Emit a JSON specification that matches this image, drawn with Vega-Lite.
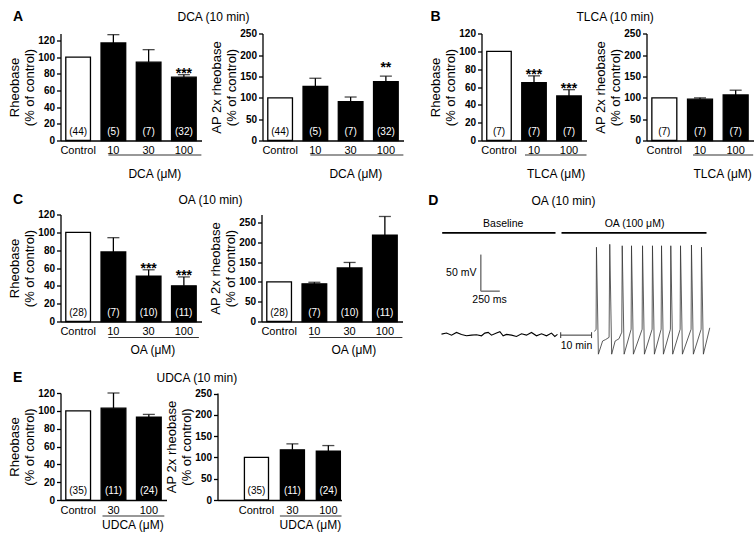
{
  "$schema": "https://vega.github.io/schema/vega-lite/v6.json",
  "padding": {"left": 7.5, "top": 9.5, "right": 0, "bottom": 0},
  "config": {
    "font": "Liberation Sans",
    "view": {"stroke": null},
    "axis": {"grid": false, "domainColor": "black", "domainWidth": 1.3, "tickColor": "black", "tickWidth": 1.3, "labelColor": "black", "titleColor": "black", "labelFont": "Liberation Sans", "titleFont": "Liberation Sans"},
    "axisQuantitative": {"labelOverlap": false},
    "axisY": {"tickSize": 4, "labelFontWeight": "bold", "labelFontSize": 10, "labelPadding": 2, "labelOverlap": false, "titleFontWeight": "normal", "titleFontSize": 13, "titleLineHeight": 15.5, "titlePadding": 1},
    "axisX": {"ticks": false, "labelAngle": 0, "labelFontSize": 11, "labelPadding": 4, "title": null},
    "title": {"anchor": "start", "frame": "group", "baseline": "alphabetic", "offset": 8, "color": "black", "font": "Liberation Sans", "fontSize": 12, "fontWeight": "normal"},
    "text": {"font": "Liberation Sans", "color": "black"}
  },
  "datasets": {
    "dcaRheo": [
      {"cat": "Control", "grp": "Control", "mean": 100, "n": "(44)"},
      {"cat": "10", "grp": "Drug", "mean": 117, "upper": 127, "n": "(5)"},
      {"cat": "30", "grp": "Drug", "mean": 94, "upper": 109, "n": "(7)"},
      {"cat": "100", "grp": "Drug", "mean": 76, "upper": 79, "n": "(32)", "sig": "***"}
    ],
    "dcaAP": [
      {"cat": "Control", "grp": "Control", "mean": 100, "n": "(44)"},
      {"cat": "10", "grp": "Drug", "mean": 127, "upper": 146, "n": "(5)"},
      {"cat": "30", "grp": "Drug", "mean": 91, "upper": 102, "n": "(7)"},
      {"cat": "100", "grp": "Drug", "mean": 138, "upper": 151, "n": "(32)", "sig": "**"}
    ],
    "tlcaRheo": [
      {"cat": "Control", "grp": "Control", "mean": 100, "n": "(7)"},
      {"cat": "10", "grp": "Drug", "mean": 65, "upper": 72.5, "n": "(7)", "sig": "***"},
      {"cat": "100", "grp": "Drug", "mean": 50, "upper": 57, "n": "(7)", "sig": "***"}
    ],
    "tlcaAP": [
      {"cat": "Control", "grp": "Control", "mean": 100, "n": "(7)"},
      {"cat": "10", "grp": "Drug", "mean": 97, "upper": 100, "n": "(7)"},
      {"cat": "100", "grp": "Drug", "mean": 107, "upper": 118, "n": "(7)"}
    ],
    "oaRheo": [
      {"cat": "Control", "grp": "Control", "mean": 100, "n": "(28)"},
      {"cat": "10", "grp": "Drug", "mean": 78, "upper": 94, "n": "(7)"},
      {"cat": "30", "grp": "Drug", "mean": 51, "upper": 58, "n": "(10)", "sig": "***"},
      {"cat": "100", "grp": "Drug", "mean": 40, "upper": 50, "n": "(11)", "sig": "***"}
    ],
    "oaAP": [
      {"cat": "Control", "grp": "Control", "mean": 100, "n": "(28)"},
      {"cat": "10", "grp": "Drug", "mean": 95, "upper": 99, "n": "(7)"},
      {"cat": "30", "grp": "Drug", "mean": 135, "upper": 149, "n": "(10)"},
      {"cat": "100", "grp": "Drug", "mean": 218, "upper": 265, "n": "(11)"}
    ],
    "udcaRheo": [
      {"cat": "Control", "grp": "Control", "mean": 100, "n": "(35)"},
      {"cat": "30", "grp": "Drug", "mean": 103, "upper": 120, "n": "(11)"},
      {"cat": "100", "grp": "Drug", "mean": 93, "upper": 96, "n": "(24)"}
    ],
    "udcaAP": [
      {"cat": "Control", "grp": "Control", "mean": 100, "n": "(35)"},
      {"cat": "30", "grp": "Drug", "mean": 118, "upper": 132, "n": "(11)"},
      {"cat": "100", "grp": "Drug", "mean": 115, "upper": 128, "n": "(24)"}
    ],
    "dBase": [
      {"t": 0, "v": -58.6}, {"t": 66, "v": -57.2}, {"t": 132, "v": -60.0}, {"t": 197, "v": -56.3}, {"t": 263, "v": -59.0},
      {"t": 329, "v": -60.9}, {"t": 395, "v": -60.0}, {"t": 461, "v": -59.5}, {"t": 526, "v": -60.9}, {"t": 570, "v": -57.2},
      {"t": 614, "v": -56.3}, {"t": 658, "v": -60.0}, {"t": 724, "v": -57.2}, {"t": 768, "v": -55.4}, {"t": 811, "v": -60.9},
      {"t": 855, "v": -59.0}, {"t": 921, "v": -60.0}, {"t": 987, "v": -61.8}, {"t": 1053, "v": -58.1}, {"t": 1118, "v": -60.0},
      {"t": 1184, "v": -56.3}, {"t": 1250, "v": -60.9}, {"t": 1316, "v": -58.1}, {"t": 1382, "v": -60.9}, {"t": 1447, "v": -57.2},
      {"t": 1491, "v": -61.8}, {"t": 1526, "v": -59.0}
    ],
    "dSpike": [
      {"t": 2013, "v": -55}, {"t": 2034, "v": -52}, {"t": 2039, "v": 60}, {"t": 2064, "v": -86}, {"t": 2120, "v": -68},
      {"t": 2160, "v": -66}, {"t": 2205, "v": -63}, {"t": 2214, "v": 64}, {"t": 2239, "v": -86}, {"t": 2285, "v": -68},
      {"t": 2335, "v": -65}, {"t": 2372, "v": -56}, {"t": 2378, "v": 62}, {"t": 2403, "v": -86}, {"t": 2495, "v": -52},
      {"t": 2500, "v": 62}, {"t": 2525, "v": -86}, {"t": 2640, "v": -52}, {"t": 2645, "v": 62}, {"t": 2670, "v": -86},
      {"t": 2771, "v": -52}, {"t": 2776, "v": 62}, {"t": 2801, "v": -86}, {"t": 2890, "v": -52}, {"t": 2895, "v": 62},
      {"t": 2920, "v": -86}, {"t": 3012, "v": -52}, {"t": 3017, "v": 62}, {"t": 3042, "v": -86}, {"t": 3140, "v": -52},
      {"t": 3145, "v": 62}, {"t": 3170, "v": -86}, {"t": 3284, "v": -52}, {"t": 3289, "v": 63}, {"t": 3314, "v": -86},
      {"t": 3416, "v": -52}, {"t": 3421, "v": 60}, {"t": 3446, "v": -86}, {"t": 3530, "v": -50}
    ],
    "dBars": [
      {"t1": 9, "t2": 1500, "v1": 79.6, "v2": 79.6},
      {"t1": 1579, "t2": 3487, "v1": 79.6, "v2": 79.6}
    ],
    "dScale": [
      {"t1": 517, "t2": 517, "v1": 0, "v2": 50},
      {"t1": 517, "t2": 767, "v1": 0, "v2": 0}
    ],
    "dBracket": [
      {"t1": 1568, "t2": 1974, "v1": -60, "v2": -60},
      {"t1": 1568, "t2": 1568, "v1": -64, "v2": -56},
      {"t1": 1974, "t2": 1974, "v1": -64, "v2": -56}
    ],
    "dTextC": [
      {"t": 812, "v": 91.9, "label": "Baseline"},
      {"t": 2540, "v": 91.9, "label": "OA (100 μM)"},
      {"t": 632, "v": -12, "label": "250 ms"},
      {"t": 1776, "v": -74.5, "label": "10 min"}
    ],
    "dTextR": [
      {"t": 460, "v": 24.4, "label": "50 mV"}
    ],
    "dHead": [
      {"t": 1605, "v": 123.7, "label": "OA (10 min)"}
    ],
    "dLetter": [
      {"t": -175, "v": 117.1, "label": "D"}
    ]
  },
  "spacing": 12,
  "vconcat": [
    {
      "spacing": 24,
      "hconcat": [
        {
          "bounds": "flush",
          "spacing": 61,
          "hconcat": [
            {
              "width": 141, "height": 107,
              "title": {"text": "A", "dx": -47.5, "offset": 9.5, "fontSize": 14, "fontWeight": "bold"},
              "data": {"name": "dcaRheo"},
              "encoding": {"x": {"field": "cat", "type": "nominal", "sort": null, "scale": {"domain": ["Control", "10", "30", "100"], "paddingInner": 0.3, "paddingOuter": 0.15}, "axis": {"title": null}}},
              "layer": [
                {"mark": {"type": "bar", "stroke": "black", "strokeWidth": 1.3},
                 "encoding": {"y": {"field": "mean", "type": "quantitative", "scale": {"domain": [0, 128.4], "nice": false}, "axis": {"values": [0, 20, 40, 60, 80, 100, 120], "labelOverlap": false, "title": ["Rheobase", "(% of control)"]}},
                   "fill": {"condition": {"test": "datum.grp === 'Control'", "value": "white"}, "value": "black"}}},
                {"transform": [{"filter": "isValid(datum.upper)"}], "mark": {"type": "rule", "color": "black", "strokeWidth": 1.3}, "encoding": {"y": {"field": "mean", "type": "quantitative", "axis": {"values": [0, 20, 40, 60, 80, 100, 120], "labelOverlap": false, "title": ["Rheobase", "(% of control)"]}}, "y2": {"field": "upper"}}},
                {"transform": [{"filter": "isValid(datum.upper)"}], "mark": {"type": "tick", "color": "black", "thickness": 1.3, "size": 12}, "encoding": {"y": {"field": "upper", "type": "quantitative", "axis": {"values": [0, 20, 40, 60, 80, 100, 120], "labelOverlap": false, "title": ["Rheobase", "(% of control)"]}}}},
                {"transform": [{"filter": "isValid(datum.sig)"}], "mark": {"type": "text", "fontSize": 14, "fontWeight": "bold", "baseline": "alphabetic", "dy": 3}, "encoding": {"y": {"field": "upper", "type": "quantitative", "axis": {"values": [0, 20, 40, 60, 80, 100, 120], "labelOverlap": false, "title": ["Rheobase", "(% of control)"]}}, "text": {"field": "sig"}}},
                {"mark": {"type": "text", "fontSize": 10, "baseline": "alphabetic", "dy": -6}, "encoding": {"y": {"datum": 0, "type": "quantitative", "axis": {"values": [0, 20, 40, 60, 80, 100, 120], "labelOverlap": false, "title": ["Rheobase", "(% of control)"]}}, "text": {"field": "n"}, "color": {"condition": {"test": "datum.grp === 'Control'", "value": "black"}, "value": "white"}}},
                {"data": {"values": [{}]}, "mark": {"type": "rule", "color": "#333", "strokeWidth": 1.2, "xOffset": -5, "x2Offset": 17.5, "yOffset": 14.5}, "encoding": {"x": {"datum": "10"}, "x2": {"datum": "100"}, "y": {"datum": 0, "type": "quantitative", "axis": {"values": [0, 20, 40, 60, 80, 100, 120], "labelOverlap": false, "title": ["Rheobase", "(% of control)"]}}}},
                {"data": {"values": [{}]}, "mark": {"type": "text", "fontSize": 12, "baseline": "alphabetic", "xOffset": -29, "yOffset": 37.5}, "encoding": {"x": {"datum": "100"}, "y": {"datum": 0, "type": "quantitative", "axis": {"values": [0, 20, 40, 60, 80, 100, 120], "labelOverlap": false, "title": ["Rheobase", "(% of control)"]}}, "text": {"value": "DCA (μM)"}}}
              ]
            },
            {
              "width": 141, "height": 107,
              "title": {"text": "DCA (10 min)", "dx": -85, "offset": 5},
              "data": {"name": "dcaAP"},
              "encoding": {"x": {"field": "cat", "type": "nominal", "sort": null, "scale": {"domain": ["Control", "10", "30", "100"], "paddingInner": 0.3, "paddingOuter": 0.15}, "axis": {"title": null}}},
              "layer": [
                {"mark": {"type": "bar", "stroke": "black", "strokeWidth": 1.3},
                 "encoding": {"y": {"field": "mean", "type": "quantitative", "scale": {"domain": [0, 251], "nice": false}, "axis": {"values": [0, 50, 100, 150, 200, 250], "labelOverlap": false, "title": ["AP 2x rheobase", "(% of control)"]}},
                   "fill": {"condition": {"test": "datum.grp === 'Control'", "value": "white"}, "value": "black"}}},
                {"transform": [{"filter": "isValid(datum.upper)"}], "mark": {"type": "rule", "color": "black", "strokeWidth": 1.3}, "encoding": {"y": {"field": "mean", "type": "quantitative", "axis": {"values": [0, 50, 100, 150, 200, 250], "labelOverlap": false, "title": ["AP 2x rheobase", "(% of control)"]}}, "y2": {"field": "upper"}}},
                {"transform": [{"filter": "isValid(datum.upper)"}], "mark": {"type": "tick", "color": "black", "thickness": 1.3, "size": 12}, "encoding": {"y": {"field": "upper", "type": "quantitative", "axis": {"values": [0, 50, 100, 150, 200, 250], "labelOverlap": false, "title": ["AP 2x rheobase", "(% of control)"]}}}},
                {"transform": [{"filter": "isValid(datum.sig)"}], "mark": {"type": "text", "fontSize": 14, "fontWeight": "bold", "baseline": "alphabetic", "dy": -4}, "encoding": {"y": {"field": "upper", "type": "quantitative", "axis": {"values": [0, 50, 100, 150, 200, 250], "labelOverlap": false, "title": ["AP 2x rheobase", "(% of control)"]}}, "text": {"field": "sig"}}},
                {"mark": {"type": "text", "fontSize": 10, "baseline": "alphabetic", "dy": -6}, "encoding": {"y": {"datum": 0, "type": "quantitative", "axis": {"values": [0, 50, 100, 150, 200, 250], "labelOverlap": false, "title": ["AP 2x rheobase", "(% of control)"]}}, "text": {"field": "n"}, "color": {"condition": {"test": "datum.grp === 'Control'", "value": "black"}, "value": "white"}}},
                {"data": {"values": [{}]}, "mark": {"type": "rule", "color": "#333", "strokeWidth": 1.2, "xOffset": -5, "x2Offset": 17.5, "yOffset": 14.5}, "encoding": {"x": {"datum": "10"}, "x2": {"datum": "100"}, "y": {"datum": 0, "type": "quantitative", "axis": {"values": [0, 50, 100, 150, 200, 250], "labelOverlap": false, "title": ["AP 2x rheobase", "(% of control)"]}}}},
                {"data": {"values": [{}]}, "mark": {"type": "text", "fontSize": 12, "baseline": "alphabetic", "xOffset": -30, "yOffset": 37.5}, "encoding": {"x": {"datum": "100"}, "y": {"datum": 0, "type": "quantitative", "axis": {"values": [0, 50, 100, 150, 200, 250], "labelOverlap": false, "title": ["AP 2x rheobase", "(% of control)"]}}, "text": {"value": "DCA (μM)"}}}
              ]
            }
          ]
        },
        {
          "bounds": "flush",
          "spacing": 60,
          "hconcat": [
            {
              "width": 105, "height": 107,
              "title": {"text": "B", "dx": -51, "offset": 4.5, "fontSize": 14, "fontWeight": "bold"},
              "data": {"name": "tlcaRheo"},
              "encoding": {"x": {"field": "cat", "type": "nominal", "sort": null, "scale": {"domain": ["Control", "10", "100"], "paddingInner": 0.3, "paddingOuter": 0.15}, "axis": {"title": null}}},
              "layer": [
                {"mark": {"type": "bar", "stroke": "black", "strokeWidth": 1.3},
                 "encoding": {"y": {"field": "mean", "type": "quantitative", "scale": {"domain": [0, 120], "nice": false}, "axis": {"values": [0, 20, 40, 60, 80, 100, 120], "labelOverlap": false, "title": ["Rheobase", "(% of control)"]}},
                   "fill": {"condition": {"test": "datum.grp === 'Control'", "value": "white"}, "value": "black"}}},
                {"transform": [{"filter": "isValid(datum.upper)"}], "mark": {"type": "rule", "color": "black", "strokeWidth": 1.3}, "encoding": {"y": {"field": "mean", "type": "quantitative", "axis": {"values": [0, 20, 40, 60, 80, 100, 120], "labelOverlap": false, "title": ["Rheobase", "(% of control)"]}}, "y2": {"field": "upper"}}},
                {"transform": [{"filter": "isValid(datum.upper)"}], "mark": {"type": "tick", "color": "black", "thickness": 1.3, "size": 12}, "encoding": {"y": {"field": "upper", "type": "quantitative", "axis": {"values": [0, 20, 40, 60, 80, 100, 120], "labelOverlap": false, "title": ["Rheobase", "(% of control)"]}}}},
                {"transform": [{"filter": "isValid(datum.sig)"}], "mark": {"type": "text", "fontSize": 14, "fontWeight": "bold", "baseline": "alphabetic", "dy": 3}, "encoding": {"y": {"field": "upper", "type": "quantitative", "axis": {"values": [0, 20, 40, 60, 80, 100, 120], "labelOverlap": false, "title": ["Rheobase", "(% of control)"]}}, "text": {"field": "sig"}}},
                {"mark": {"type": "text", "fontSize": 10, "baseline": "alphabetic", "dy": -6}, "encoding": {"y": {"datum": 0, "type": "quantitative", "axis": {"values": [0, 20, 40, 60, 80, 100, 120], "labelOverlap": false, "title": ["Rheobase", "(% of control)"]}}, "text": {"field": "n"}, "color": {"condition": {"test": "datum.grp === 'Control'", "value": "black"}, "value": "white"}}},
                {"data": {"values": [{}]}, "mark": {"type": "rule", "color": "#333", "strokeWidth": 1.2, "xOffset": -9, "x2Offset": 17.5, "yOffset": 14.5}, "encoding": {"x": {"datum": "10"}, "x2": {"datum": "100"}, "y": {"datum": 0, "type": "quantitative", "axis": {"values": [0, 20, 40, 60, 80, 100, 120], "labelOverlap": false, "title": ["Rheobase", "(% of control)"]}}}},
                {"data": {"values": [{}]}, "mark": {"type": "text", "fontSize": 12, "baseline": "alphabetic", "xOffset": -13, "yOffset": 37.5}, "encoding": {"x": {"datum": "100"}, "y": {"datum": 0, "type": "quantitative", "axis": {"values": [0, 20, 40, 60, 80, 100, 120], "labelOverlap": false, "title": ["Rheobase", "(% of control)"]}}, "text": {"value": "TLCA (μM)"}}}
              ]
            },
            {
              "width": 107, "height": 107,
              "title": {"text": "TLCA (10 min)", "dx": -70, "offset": 5},
              "data": {"name": "tlcaAP"},
              "encoding": {"x": {"field": "cat", "type": "nominal", "sort": null, "scale": {"domain": ["Control", "10", "100"], "paddingInner": 0.3, "paddingOuter": 0.15}, "axis": {"title": null}}},
              "layer": [
                {"mark": {"type": "bar", "stroke": "black", "strokeWidth": 1.3},
                 "encoding": {"y": {"field": "mean", "type": "quantitative", "scale": {"domain": [0, 251], "nice": false}, "axis": {"values": [0, 50, 100, 150, 200, 250], "labelOverlap": false, "title": ["AP 2x rheobase", "(% of control)"]}},
                   "fill": {"condition": {"test": "datum.grp === 'Control'", "value": "white"}, "value": "black"}}},
                {"transform": [{"filter": "isValid(datum.upper)"}], "mark": {"type": "rule", "color": "black", "strokeWidth": 1.3}, "encoding": {"y": {"field": "mean", "type": "quantitative", "axis": {"values": [0, 50, 100, 150, 200, 250], "labelOverlap": false, "title": ["AP 2x rheobase", "(% of control)"]}}, "y2": {"field": "upper"}}},
                {"transform": [{"filter": "isValid(datum.upper)"}], "mark": {"type": "tick", "color": "black", "thickness": 1.3, "size": 12}, "encoding": {"y": {"field": "upper", "type": "quantitative", "axis": {"values": [0, 50, 100, 150, 200, 250], "labelOverlap": false, "title": ["AP 2x rheobase", "(% of control)"]}}}},
                {"mark": {"type": "text", "fontSize": 10, "baseline": "alphabetic", "dy": -6}, "encoding": {"y": {"datum": 0, "type": "quantitative", "axis": {"values": [0, 50, 100, 150, 200, 250], "labelOverlap": false, "title": ["AP 2x rheobase", "(% of control)"]}}, "text": {"field": "n"}, "color": {"condition": {"test": "datum.grp === 'Control'", "value": "black"}, "value": "white"}}},
                {"data": {"values": [{}]}, "mark": {"type": "rule", "color": "#333", "strokeWidth": 1.2, "xOffset": -7, "x2Offset": 17.5, "yOffset": 14.5}, "encoding": {"x": {"datum": "10"}, "x2": {"datum": "100"}, "y": {"datum": 0, "type": "quantitative", "axis": {"values": [0, 50, 100, 150, 200, 250], "labelOverlap": false, "title": ["AP 2x rheobase", "(% of control)"]}}}},
                {"data": {"values": [{}]}, "mark": {"type": "text", "fontSize": 12, "baseline": "alphabetic", "xOffset": -13, "yOffset": 37.5}, "encoding": {"x": {"datum": "100"}, "y": {"datum": 0, "type": "quantitative", "axis": {"values": [0, 50, 100, 150, 200, 250], "labelOverlap": false, "title": ["AP 2x rheobase", "(% of control)"]}}, "text": {"value": "TLCA (μM)"}}}
              ]
            }
          ]
        }
      ]
    },
    {
      "spacing": 14.5,
      "vconcat": [
        {
          "bounds": "flush",
          "spacing": 60,
          "hconcat": [
            {
              "width": 141, "height": 107,
              "title": {"text": "C", "dx": -47.5, "offset": 3, "fontSize": 14, "fontWeight": "bold"},
              "data": {"name": "oaRheo"},
              "encoding": {"x": {"field": "cat", "type": "nominal", "sort": null, "scale": {"domain": ["Control", "10", "30", "100"], "paddingInner": 0.3, "paddingOuter": 0.15}, "axis": {"title": null}}},
              "layer": [
                {"mark": {"type": "bar", "stroke": "black", "strokeWidth": 1.3},
                 "encoding": {"y": {"field": "mean", "type": "quantitative", "scale": {"domain": [0, 120], "nice": false}, "axis": {"values": [0, 20, 40, 60, 80, 100, 120], "labelOverlap": false, "title": ["Rheobase", "(% of control)"]}},
                   "fill": {"condition": {"test": "datum.grp === 'Control'", "value": "white"}, "value": "black"}}},
                {"transform": [{"filter": "isValid(datum.upper)"}], "mark": {"type": "rule", "color": "black", "strokeWidth": 1.3}, "encoding": {"y": {"field": "mean", "type": "quantitative", "axis": {"values": [0, 20, 40, 60, 80, 100, 120], "labelOverlap": false, "title": ["Rheobase", "(% of control)"]}}, "y2": {"field": "upper"}}},
                {"transform": [{"filter": "isValid(datum.upper)"}], "mark": {"type": "tick", "color": "black", "thickness": 1.3, "size": 12}, "encoding": {"y": {"field": "upper", "type": "quantitative", "axis": {"values": [0, 20, 40, 60, 80, 100, 120], "labelOverlap": false, "title": ["Rheobase", "(% of control)"]}}}},
                {"transform": [{"filter": "isValid(datum.sig)"}], "mark": {"type": "text", "fontSize": 14, "fontWeight": "bold", "baseline": "alphabetic", "dy": 3}, "encoding": {"y": {"field": "upper", "type": "quantitative", "axis": {"values": [0, 20, 40, 60, 80, 100, 120], "labelOverlap": false, "title": ["Rheobase", "(% of control)"]}}, "text": {"field": "sig"}}},
                {"mark": {"type": "text", "fontSize": 10, "baseline": "alphabetic", "dy": -6}, "encoding": {"y": {"datum": 0, "type": "quantitative", "axis": {"values": [0, 20, 40, 60, 80, 100, 120], "labelOverlap": false, "title": ["Rheobase", "(% of control)"]}}, "text": {"field": "n"}, "color": {"condition": {"test": "datum.grp === 'Control'", "value": "black"}, "value": "white"}}},
                {"data": {"values": [{}]}, "mark": {"type": "rule", "color": "#333", "strokeWidth": 1.2, "xOffset": -5, "x2Offset": 15, "yOffset": 16}, "encoding": {"x": {"datum": "10"}, "x2": {"datum": "100"}, "y": {"datum": 0, "type": "quantitative", "axis": {"values": [0, 20, 40, 60, 80, 100, 120], "labelOverlap": false, "title": ["Rheobase", "(% of control)"]}}}},
                {"data": {"values": [{}]}, "mark": {"type": "text", "fontSize": 12, "baseline": "alphabetic", "xOffset": -31, "yOffset": 32}, "encoding": {"x": {"datum": "100"}, "y": {"datum": 0, "type": "quantitative", "axis": {"values": [0, 20, 40, 60, 80, 100, 120], "labelOverlap": false, "title": ["Rheobase", "(% of control)"]}}, "text": {"value": "OA (μM)"}}}
              ]
            },
            {
              "width": 141, "height": 107,
              "title": {"text": "OA (10 min)", "dx": -83, "offset": 8},
              "data": {"name": "oaAP"},
              "encoding": {"x": {"field": "cat", "type": "nominal", "sort": null, "scale": {"domain": ["Control", "10", "30", "100"], "paddingInner": 0.3, "paddingOuter": 0.15}, "axis": {"title": null}}},
              "layer": [
                {"mark": {"type": "bar", "stroke": "black", "strokeWidth": 1.3},
                 "encoding": {"y": {"field": "mean", "type": "quantitative", "scale": {"domain": [0, 270], "nice": false}, "axis": {"values": [0, 50, 100, 150, 200, 250], "labelOverlap": false, "title": ["AP 2x rheobase", "(% of control)"]}},
                   "fill": {"condition": {"test": "datum.grp === 'Control'", "value": "white"}, "value": "black"}}},
                {"transform": [{"filter": "isValid(datum.upper)"}], "mark": {"type": "rule", "color": "black", "strokeWidth": 1.3}, "encoding": {"y": {"field": "mean", "type": "quantitative", "axis": {"values": [0, 50, 100, 150, 200, 250], "labelOverlap": false, "title": ["AP 2x rheobase", "(% of control)"]}}, "y2": {"field": "upper"}}},
                {"transform": [{"filter": "isValid(datum.upper)"}], "mark": {"type": "tick", "color": "black", "thickness": 1.3, "size": 12}, "encoding": {"y": {"field": "upper", "type": "quantitative", "axis": {"values": [0, 50, 100, 150, 200, 250], "labelOverlap": false, "title": ["AP 2x rheobase", "(% of control)"]}}}},
                {"mark": {"type": "text", "fontSize": 10, "baseline": "alphabetic", "dy": -6}, "encoding": {"y": {"datum": 0, "type": "quantitative", "axis": {"values": [0, 50, 100, 150, 200, 250], "labelOverlap": false, "title": ["AP 2x rheobase", "(% of control)"]}}, "text": {"field": "n"}, "color": {"condition": {"test": "datum.grp === 'Control'", "value": "black"}, "value": "white"}}},
                {"data": {"values": [{}]}, "mark": {"type": "rule", "color": "#333", "strokeWidth": 1.2, "xOffset": -5, "x2Offset": 17.5, "yOffset": 16}, "encoding": {"x": {"datum": "10"}, "x2": {"datum": "100"}, "y": {"datum": 0, "type": "quantitative", "axis": {"values": [0, 50, 100, 150, 200, 250], "labelOverlap": false, "title": ["AP 2x rheobase", "(% of control)"]}}}},
                {"data": {"values": [{}]}, "mark": {"type": "text", "fontSize": 12, "baseline": "alphabetic", "xOffset": -31, "yOffset": 32}, "encoding": {"x": {"datum": "100"}, "y": {"datum": 0, "type": "quantitative", "axis": {"values": [0, 50, 100, 150, 200, 250], "labelOverlap": false, "title": ["AP 2x rheobase", "(% of control)"]}}, "text": {"value": "OA (μM)"}}}
              ]
            },
            {
              "width": 250, "height": 141,
              "layer": [
                {"data": {"name": "dBase"}, "mark": {"type": "line", "color": "black", "strokeWidth": 1.1},
                 "encoding": {"x": {"field": "t", "type": "quantitative", "scale": {"domain": [276.3, 3565.8], "nice": false, "zero": false}, "axis": null},
                              "y": {"field": "v", "type": "quantitative", "scale": {"domain": [-87.8, 104.7], "nice": false, "zero": false}, "axis": null}}},
                {"data": {"name": "dSpike"}, "mark": {"type": "line", "color": "#333", "strokeWidth": 0.8},
                 "encoding": {"x": {"field": "t", "type": "quantitative", "scale": {"domain": [276.3, 3565.8], "nice": false, "zero": false}, "axis": null},
                              "y": {"field": "v", "type": "quantitative", "scale": {"domain": [-87.8, 104.7], "nice": false, "zero": false}, "axis": null}}},
                {"data": {"name": "dBars"}, "mark": {"type": "rule", "color": "black", "strokeWidth": 1.8},
                 "encoding": {"x": {"field": "t1", "type": "quantitative", "scale": {"domain": [276.3, 3565.8], "nice": false, "zero": false}, "axis": null}, "x2": {"field": "t2"},
                              "y": {"field": "v1", "type": "quantitative", "scale": {"domain": [-87.8, 104.7], "nice": false, "zero": false}, "axis": null}, "y2": {"field": "v2"}}},
                {"data": {"name": "dScale"}, "mark": {"type": "rule", "color": "#808080", "strokeWidth": 1.6},
                 "encoding": {"x": {"field": "t1", "type": "quantitative", "scale": {"domain": [276.3, 3565.8], "nice": false, "zero": false}, "axis": null}, "x2": {"field": "t2"},
                              "y": {"field": "v1", "type": "quantitative", "scale": {"domain": [-87.8, 104.7], "nice": false, "zero": false}, "axis": null}, "y2": {"field": "v2"}}},
                {"data": {"name": "dBracket"}, "mark": {"type": "rule", "color": "#444", "strokeWidth": 1.1},
                 "encoding": {"x": {"field": "t1", "type": "quantitative", "scale": {"domain": [276.3, 3565.8], "nice": false, "zero": false}, "axis": null}, "x2": {"field": "t2"},
                              "y": {"field": "v1", "type": "quantitative", "scale": {"domain": [-87.8, 104.7], "nice": false, "zero": false}, "axis": null}, "y2": {"field": "v2"}}},
                {"data": {"name": "dTextC"}, "mark": {"type": "text", "fontSize": 10.5, "align": "center", "baseline": "middle"},
                 "encoding": {"x": {"field": "t", "type": "quantitative", "scale": {"domain": [276.3, 3565.8], "nice": false, "zero": false}, "axis": null},
                              "y": {"field": "v", "type": "quantitative", "scale": {"domain": [-87.8, 104.7], "nice": false, "zero": false}, "axis": null}, "text": {"field": "label"}}},
                {"data": {"name": "dTextR"}, "mark": {"type": "text", "fontSize": 10.5, "align": "right", "baseline": "middle"},
                 "encoding": {"x": {"field": "t", "type": "quantitative", "scale": {"domain": [276.3, 3565.8], "nice": false, "zero": false}, "axis": null},
                              "y": {"field": "v", "type": "quantitative", "scale": {"domain": [-87.8, 104.7], "nice": false, "zero": false}, "axis": null}, "text": {"field": "label"}}},
                {"data": {"name": "dHead"}, "mark": {"type": "text", "fontSize": 12, "align": "center", "baseline": "middle"},
                 "encoding": {"x": {"field": "t", "type": "quantitative", "scale": {"domain": [276.3, 3565.8], "nice": false, "zero": false}, "axis": null},
                              "y": {"field": "v", "type": "quantitative", "scale": {"domain": [-87.8, 104.7], "nice": false, "zero": false}, "axis": null}, "text": {"field": "label"}}},
                {"data": {"name": "dLetter"}, "mark": {"type": "text", "fontSize": 14, "fontWeight": "bold", "align": "left", "baseline": "alphabetic"},
                 "encoding": {"x": {"field": "t", "type": "quantitative", "scale": {"domain": [276.3, 3565.8], "nice": false, "zero": false}, "axis": null},
                              "y": {"field": "v", "type": "quantitative", "scale": {"domain": [-87.8, 104.7], "nice": false, "zero": false}, "axis": null}, "text": {"field": "label"}}}
              ]
            }
          ]
        },
        {
          "bounds": "flush",
          "spacing": 51,
          "hconcat": [
            {
              "width": 106, "height": 107,
              "title": {"text": "E", "dx": -47.5, "offset": 3, "fontSize": 14, "fontWeight": "bold"},
              "data": {"name": "udcaRheo"},
              "encoding": {"x": {"field": "cat", "type": "nominal", "sort": null, "scale": {"domain": ["Control", "30", "100"], "paddingInner": 0.3, "paddingOuter": 0.15}, "axis": {"title": null}}},
              "layer": [
                {"mark": {"type": "bar", "stroke": "black", "strokeWidth": 1.3},
                 "encoding": {"y": {"field": "mean", "type": "quantitative", "scale": {"domain": [0, 120], "nice": false}, "axis": {"values": [0, 20, 40, 60, 80, 100, 120], "labelOverlap": false, "title": ["Rheobase", "(% of control)"]}},
                   "fill": {"condition": {"test": "datum.grp === 'Control'", "value": "white"}, "value": "black"}}},
                {"transform": [{"filter": "isValid(datum.upper)"}], "mark": {"type": "rule", "color": "black", "strokeWidth": 1.3}, "encoding": {"y": {"field": "mean", "type": "quantitative", "axis": {"values": [0, 20, 40, 60, 80, 100, 120], "labelOverlap": false, "title": ["Rheobase", "(% of control)"]}}, "y2": {"field": "upper"}}},
                {"transform": [{"filter": "isValid(datum.upper)"}], "mark": {"type": "tick", "color": "black", "thickness": 1.3, "size": 12}, "encoding": {"y": {"field": "upper", "type": "quantitative", "axis": {"values": [0, 20, 40, 60, 80, 100, 120], "labelOverlap": false, "title": ["Rheobase", "(% of control)"]}}}},
                {"mark": {"type": "text", "fontSize": 10, "baseline": "alphabetic", "dy": -6}, "encoding": {"y": {"datum": 0, "type": "quantitative", "axis": {"values": [0, 20, 40, 60, 80, 100, 120], "labelOverlap": false, "title": ["Rheobase", "(% of control)"]}}, "text": {"field": "n"}, "color": {"condition": {"test": "datum.grp === 'Control'", "value": "black"}, "value": "white"}}},
                {"data": {"values": [{}]}, "mark": {"type": "rule", "color": "#333", "strokeWidth": 1.2, "xOffset": -11, "x2Offset": 15.5, "yOffset": 16}, "encoding": {"x": {"datum": "30"}, "x2": {"datum": "100"}, "y": {"datum": 0, "type": "quantitative", "axis": {"values": [0, 20, 40, 60, 80, 100, 120], "labelOverlap": false, "title": ["Rheobase", "(% of control)"]}}}},
                {"data": {"values": [{}]}, "mark": {"type": "text", "fontSize": 12, "baseline": "alphabetic", "xOffset": -16, "yOffset": 29}, "encoding": {"x": {"datum": "100"}, "y": {"datum": 0, "type": "quantitative", "axis": {"values": [0, 20, 40, 60, 80, 100, 120], "labelOverlap": false, "title": ["Rheobase", "(% of control)"]}}, "text": {"value": "UDCA (μM)"}}}
              ]
            },
            {
              "width": 124, "height": 107,
              "title": {"text": "UDCA (10 min)", "dx": -61, "offset": 3.7},
              "data": {"name": "udcaAP"},
              "encoding": {"x": {"field": "cat", "type": "nominal", "sort": null, "scale": {"domain": ["Control", "30", "100"], "paddingInner": 0.33, "paddingOuter": 0.39, "align": 0.96}, "axis": {"title": null}}},
              "layer": [
                {"mark": {"type": "bar", "stroke": "black", "strokeWidth": 1.3},
                 "encoding": {"y": {"field": "mean", "type": "quantitative", "scale": {"domain": [0, 251.6], "nice": false}, "axis": {"values": [0, 50, 100, 150, 200, 250], "labelOverlap": false, "title": ["AP 2x rheobase", "(% of control)"]}},
                   "fill": {"condition": {"test": "datum.grp === 'Control'", "value": "white"}, "value": "black"}}},
                {"transform": [{"filter": "isValid(datum.upper)"}], "mark": {"type": "rule", "color": "black", "strokeWidth": 1.3}, "encoding": {"y": {"field": "mean", "type": "quantitative", "axis": {"values": [0, 50, 100, 150, 200, 250], "labelOverlap": false, "title": ["AP 2x rheobase", "(% of control)"]}}, "y2": {"field": "upper"}}},
                {"transform": [{"filter": "isValid(datum.upper)"}], "mark": {"type": "tick", "color": "black", "thickness": 1.3, "size": 12}, "encoding": {"y": {"field": "upper", "type": "quantitative", "axis": {"values": [0, 50, 100, 150, 200, 250], "labelOverlap": false, "title": ["AP 2x rheobase", "(% of control)"]}}}},
                {"mark": {"type": "text", "fontSize": 10, "baseline": "alphabetic", "dy": -6}, "encoding": {"y": {"datum": 0, "type": "quantitative", "axis": {"values": [0, 50, 100, 150, 200, 250], "labelOverlap": false, "title": ["AP 2x rheobase", "(% of control)"]}}, "text": {"field": "n"}, "color": {"condition": {"test": "datum.grp === 'Control'", "value": "black"}, "value": "white"}}},
                {"data": {"values": [{}]}, "mark": {"type": "rule", "color": "#333", "strokeWidth": 1.2, "xOffset": -12.5, "x2Offset": 13.2, "yOffset": 16}, "encoding": {"x": {"datum": "30"}, "x2": {"datum": "100"}, "y": {"datum": 0, "type": "quantitative", "axis": {"values": [0, 50, 100, 150, 200, 250], "labelOverlap": false, "title": ["AP 2x rheobase", "(% of control)"]}}}},
                {"data": {"values": [{}]}, "mark": {"type": "text", "fontSize": 12, "baseline": "alphabetic", "xOffset": -18, "yOffset": 29}, "encoding": {"x": {"datum": "100"}, "y": {"datum": 0, "type": "quantitative", "axis": {"values": [0, 50, 100, 150, 200, 250], "labelOverlap": false, "title": ["AP 2x rheobase", "(% of control)"]}}, "text": {"value": "UDCA (μM)"}}}
              ]
            }
          ]
        }
      ]
    }
  ]
}
